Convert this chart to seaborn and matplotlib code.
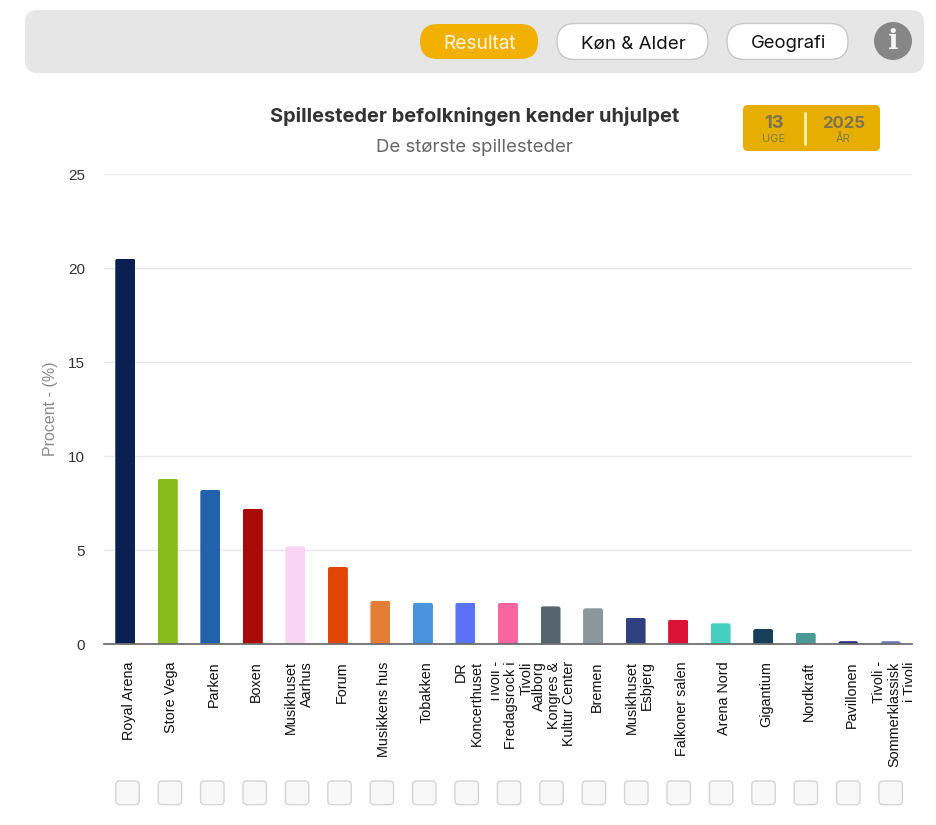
import matplotlib
matplotlib.use("Agg")
import matplotlib.pyplot as plt
from matplotlib.patches import FancyBboxPatch, Circle
from matplotlib.transforms import Affine2D, Bbox, IdentityTransform
import pandas as pd
import seaborn as sns

venues = ["Royal Arena", "Store Vega", "Parken", "Boxen", "Musikhuset\nAarhus", "Forum",
          "Musikkens hus", "Tobakken", "DR\nKoncerthuset", "Tivoli -\nFredagsrock i\nTivoli",
          "Aalborg\nKongres &\nKultur Center", "Bremen", "Musikhuset\nEsbjerg", "Falkoner salen",
          "Arena Nord", "Gigantium", "Nordkraft", "Pavillonen", "Tivoli -\nSommerklassisk\ni Tivoli"]
percent = [20.5, 8.8, 8.2, 7.2, 5.2, 4.1, 2.3, 2.2, 2.2, 2.2, 2.0, 1.9, 1.4, 1.3, 1.1, 0.8, 0.6, 0.15, 0.15]
colors = ["#0a1f52", "#86bc1c", "#2062ac", "#a80a05", "#f9d4f5", "#e04503", "#e27e36", "#4a94dd",
          "#5a72f8", "#fb659f", "#566470", "#8b979b", "#2f3f80", "#dc1236", "#45cfc0", "#173f5c",
          "#4a9a98", "#2c2a7c", "#7076bc"]
y_ticks = [0, 5, 10, 15, 20, 25]

W, H = 936, 825
sns.set_theme(style="white")
plt.rcParams["font.family"] = ["Liberation Sans", "DejaVu Sans"]
fig = plt.figure(figsize=(W / 100, H / 100), dpi=100, facecolor="white")
AX_L, AX_R, AX_T, AX_B = 104, 912, 174, 644
ax = fig.add_axes([AX_L / W, 1 - AX_B / H, (AX_R - AX_L) / W, (AX_B - AX_T) / H])

df = pd.DataFrame({"venue": venues, "percent": percent})
sns.barplot(data=df, x="venue", y="percent", hue="venue", palette=colors, legend=False,
            width=0.47, ax=ax, saturation=1, zorder=3, linewidth=0)
ax.set_xlim(-0.5, len(venues) - 0.5)
ax.set_ylim(0, 25)
ax.set_yticks(y_ticks)
ax.set_yticklabels([str(v) for v in y_ticks], fontsize=11, color="#333333")
ax.tick_params(axis="y", length=0, pad=13.5)
ax.tick_params(axis="x", length=0, pad=12.5)
ax.grid(axis="y", color="#e8e8e8", linewidth=1, zorder=0)
ax.set_axisbelow(True)
for s in ["top", "right", "left"]:
    ax.spines[s].set_visible(False)
ax.spines["bottom"].set_color("#6e6e6e")
ax.spines["bottom"].set_linewidth(1.3)
ax.spines["bottom"].set_zorder(5)
ax.set_xlabel("")
ax.set_ylabel("")
fig.text(50 / W, 1 - 408.5 / H, "Procent - (%)", rotation=90, ha="center", va="center",
         fontsize=11.5, color="#8a8a8a")

ax.set_xticks(range(len(venues)))
ax.set_xticklabels(venues, rotation=90, fontsize=10.4, color="#111111", ha="center", va="top",
                   multialignment="right", linespacing=1.12)

# rounded bar tops
fig.canvas.draw()
for bar in ax.patches:
    x0, y0 = ax.transData.transform((bar.get_x(), 0))
    x1, y1 = ax.transData.transform((bar.get_x() + bar.get_width(), bar.get_height()))
    clip = FancyBboxPatch((x0, y0 - 6), x1 - x0, y1 - y0 + 6,
                          boxstyle="round,pad=0,rounding_size=2.5", transform=IdentityTransform())
    bar.set_clip_path(clip)

# labels sit right of the tick and are cut off by their cells, as in the source
left_cut = {9: 491}
for i, t in enumerate(ax.get_xticklabels()):
    t.set_transform(t.get_transform() + Affine2D().translate(3.5, 0))
    t.set_clip_on(True)
    t.set_clip_box(Bbox([[left_cut.get(i, 0), H - 775], [912, H - 662]]))

# page chrome drawn in pixel coordinates
ui = fig.add_axes([0, 0, 1, 1], facecolor="none")
ui.set_xlim(0, W)
ui.set_ylim(H, 0)
ui.axis("off")

def pill(x0, y0, x1, y1, r, fc, ec="none", lw=1.0, z=1):
    ui.add_patch(FancyBboxPatch((x0, y0), x1 - x0, y1 - y0,
                                boxstyle=f"round,pad=0,rounding_size={r}",
                                fc=fc, ec=ec, lw=lw, zorder=z))

pill(25, 10, 924, 73, 13, "#e6e6e6")
pill(420, 24, 538, 59, 17.5, "#f2b000", z=2)
pill(557, 23.5, 708, 59.5, 18, "#ffffff", "#c8c8c8", z=2)
pill(727, 23.5, 848, 59.5, 18, "#ffffff", "#c8c8c8", z=2)
ui_font = ["Inter", "DejaVu Sans"]
ui.text(479.5, 44, "Resultat", color="#fff6dc", fontsize=13.8, ha="center", va="center", family=ui_font, zorder=3)
ui.text(633.5, 44, "Køn & Alder", color="#111111", fontsize=13.5, ha="center", va="center", family=ui_font, zorder=3)
ui.text(788.5, 44, "Geografi", color="#111111", fontsize=13.3, ha="center", va="center", family=ui_font, zorder=3)
ui.add_patch(Circle((893, 41), 19, fc="#868686", ec="none", zorder=2))
ui.text(893, 41.5, "i", color="#f4f4f4", fontsize=20, fontweight="bold", ha="center", va="center",
        family=["DejaVu Serif"], zorder=3)

ui.text(474.5, 117, "Spillesteder befolkningen kender uhjulpet", color="#333333", fontsize=14.4,
        fontweight="bold", ha="center", va="center", family=ui_font)
ui.text(474.5, 148, "De største spillesteder", color="#666666", fontsize=13.4, ha="center", va="center",
        family=ui_font)

pill(743, 105, 880, 151, 5, "#e5ae00")
ui.plot([804.5, 804.5], [112, 145], color="#fff0b0", lw=2, zorder=3, solid_capstyle="butt")
ui.text(774, 123.5, "13", color="#7d7550", fontsize=13.2, fontweight="bold", ha="center", va="center", family=ui_font, zorder=3)
ui.text(774, 138.5, "UGE", color="#857a45", fontsize=8, ha="center", va="center", family=ui_font, zorder=3)
ui.text(843.5, 123.5, "2025", color="#7d7550", fontsize=12, fontweight="bold", ha="center", va="center", family=ui_font, zorder=3)
ui.text(843.5, 138.5, "ÅR", color="#857a45", fontsize=8, ha="center", va="center", family=ui_font, zorder=3)

# empty check boxes under each category
for i in range(len(venues)):
    cx = 127.5 + i * 42.4
    pill(cx - 11.7, 781, cx + 11.7, 804.6, 4, "#f8f8f9", "#d4d4d7", 1.0)

fig.savefig("out.png", dpi=100)
